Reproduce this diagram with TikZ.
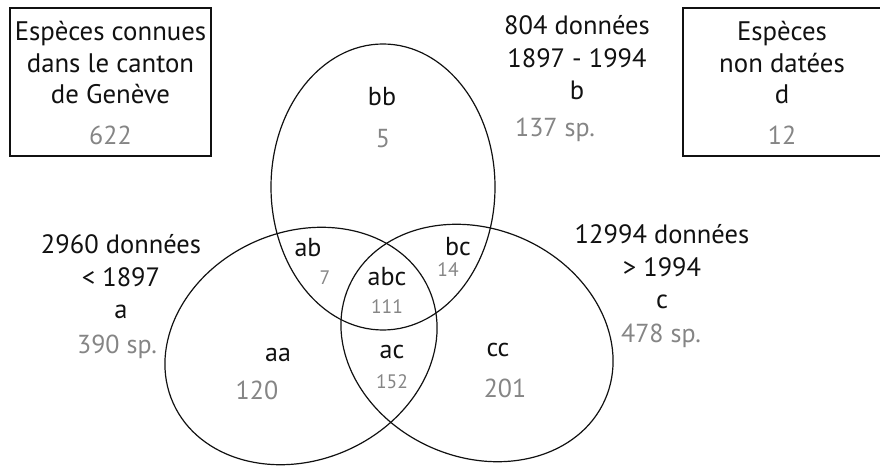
\documentclass[tikz,border=0pt]{standalone}
\usepackage{fontspec}
\setmainfont{PT Sans}
\usepackage{tikz}
\usetikzlibrary{positioning}
\definecolor{vennink}{HTML}{111111}
\definecolor{venngray}{HTML}{858585}

\tikzset{
  grouptext/.style={align=center, text=vennink, font=\fontsize{26.5}{32.5}\selectfont, inner sep=0pt},
  boxtext/.style={align=center, text=vennink, font=\fontsize{26.8}{31.5}\selectfont, inner sep=0pt},
  zonetext/.style={text=vennink, font=\fontsize{26}{28}\selectfont, inner sep=0pt},
  countbig/.style={text=venngray, font=\fontsize{26}{28}\selectfont, inner sep=0pt},
  countsmall/.style={text=venngray, font=\fontsize{19.5}{22}\selectfont, inner sep=0pt}
}

\begin{document}
\begin{tikzpicture}[x=1pt, y=1pt, line width=1.2pt]
        \useasboundingbox (0,0) rectangle (880,466);

        \draw[vennink] (10,310) rectangle (211,458);
        \draw[vennink] (683,310) rectangle (886,458);

        \draw[vennink] (383,279) ellipse [x radius=112, y radius=143];
        \draw[vennink, rotate around={24:(301,120)}] (301,120) ellipse [x radius=140, y radius=114];
        \draw[vennink, rotate around={-24:(477,123)}] (477,123) ellipse [x radius=140, y radius=114];

        \node[boxtext] (geneve) at (110.5,403) {Espèces connues\\dans le canton\\de Genève};
        \node[countbig] (geneveN) at (110.5,331) {622};
        \node[boxtext] (nondate) at (782,403) {Espèces\\non datées\\d};
        \node[countbig] (nondateN) at (782,331) {12};

        \node[grouptext] (grpb) at (577,408) {804 données\\1897 - 1994\\b};
        \node[countbig] (grpbN) at (555,336) {137 sp.};
        \node[grouptext] (grpa) at (121,189) {2960 données\\< 1897\\a};
        \node[countbig] (grpaN) at (117,119) {390 sp.};
        \node[grouptext] (grpc) at (662,199) {12994 données\\> 1994\\c};
        \node[countbig] (grpcN) at (661,130) {478 sp.};

        \node[zonetext] (bb) at (382,369) {bb};
        \node[countbig] (bbN) at (383,327) {5};
        \node[zonetext] (ab) at (308,218) {ab};
        \node[countsmall] (abN) at (325,188) {7};
        \node[zonetext] (abc) at (387,189) {abc};
        \node[countsmall] (abcN) at (387,159) {111};
        \node[zonetext] (bc) at (458,219) {bc};
        \node[countsmall] (bcN) at (448,196) {14};
        \node[zonetext] (ac) at (392,114) {ac};
        \node[countsmall] (acN) at (392,84) {152};
        \node[zonetext] (aa) at (278,111) {aa};
        \node[countbig] (aaN) at (257,76) {120};
        \node[zonetext] (cc) at (498,116) {cc};
        \node[countbig] (ccN) at (505,78) {201};
    \end{tikzpicture}
\end{document}
